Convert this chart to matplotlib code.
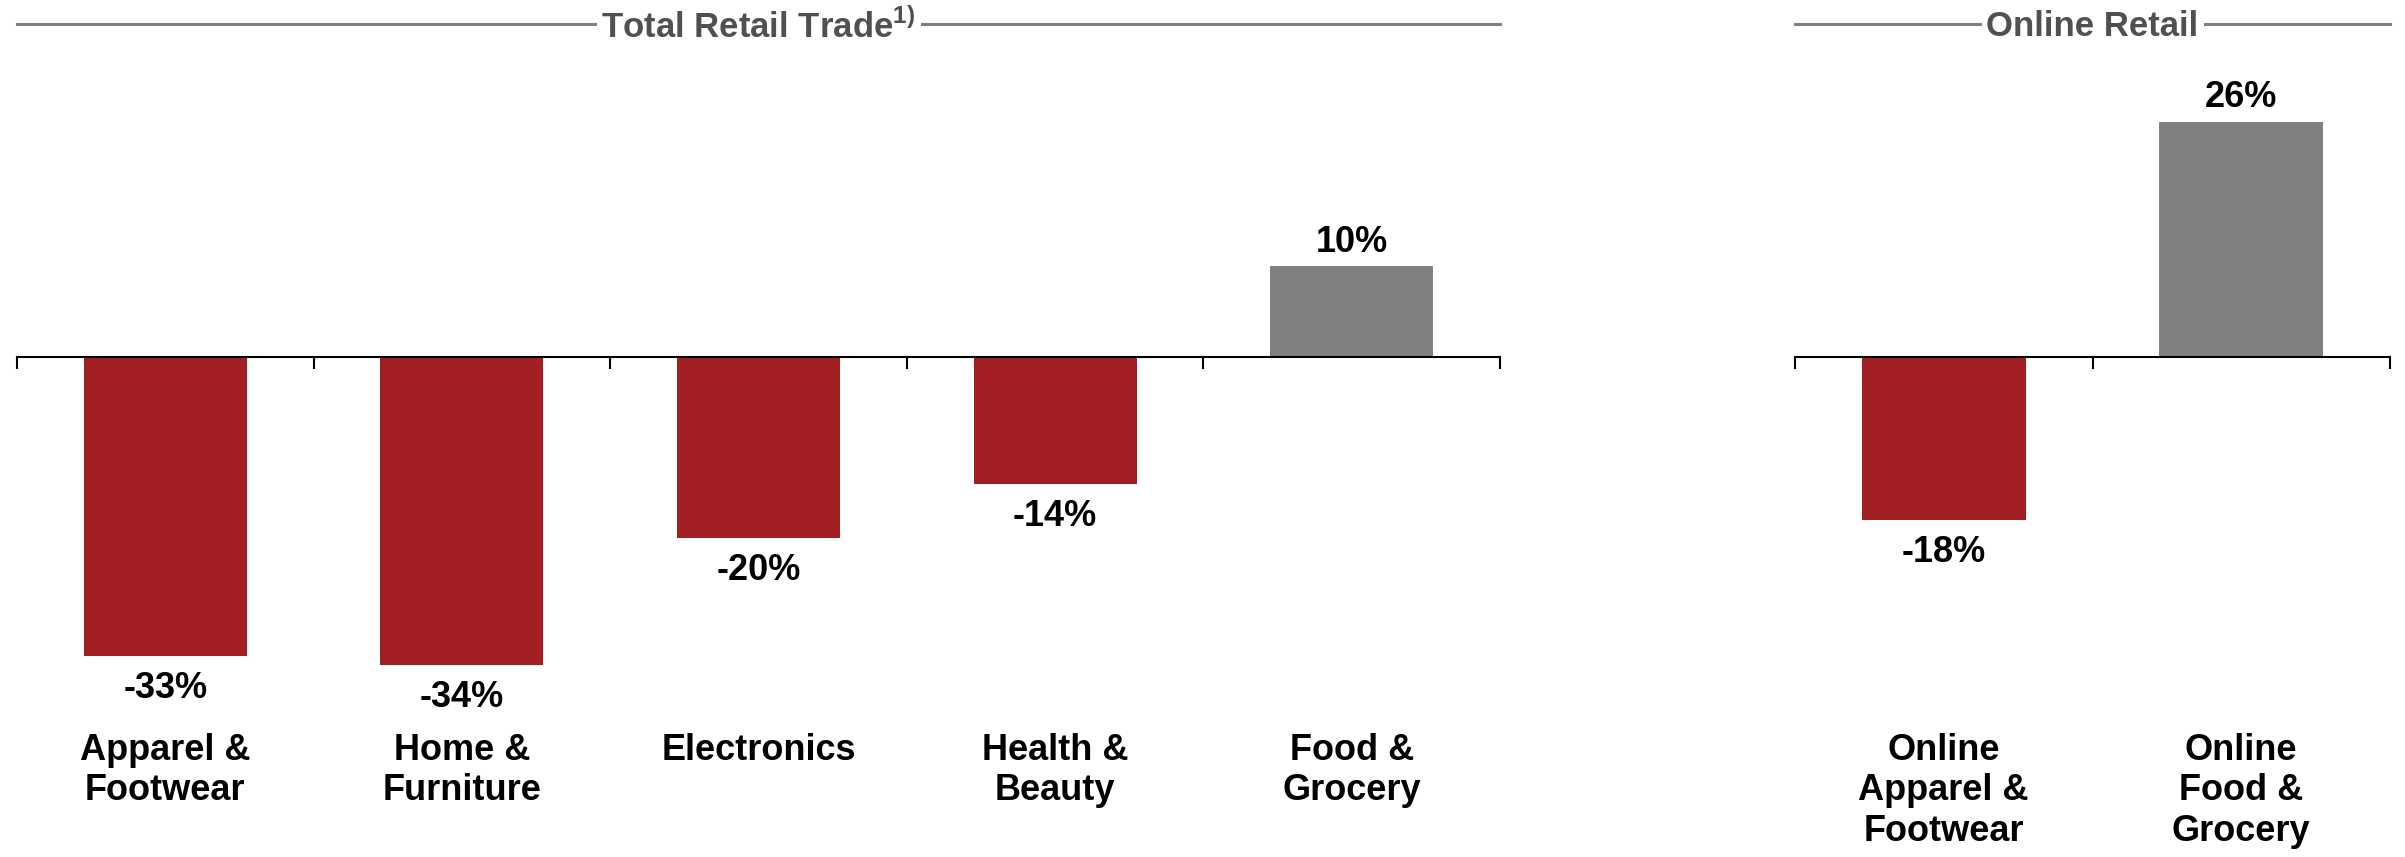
import matplotlib
matplotlib.use("Agg")
import matplotlib.pyplot as plt
from matplotlib.transforms import blended_transform_factory

plt.rcParams['font.family'] = ['Liberation Sans Narrow', 'Liberation Sans', 'DejaVu Sans']
plt.rcParams['mathtext.fontset'] = 'custom'
plt.rcParams['mathtext.bf'] = 'Liberation Sans:bold'
plt.rcParams['mathtext.rm'] = 'Liberation Sans'

# data
retail_cats = ["Apparel &\nFootwear", "Home &\nFurniture", "Electronics",
               "Health &\nBeauty", "Food &\nGrocery"]
retail_vals = [-33, -34, -20, -14, 10]
online_cats = ["Online\nApparel &\nFootwear", "Online\nFood &\nGrocery"]
online_vals = [-18, 26]

RED = "#a11f22"
GREY = "#808080"
TITLE_GREY = "#505050"

W, H = 2405, 857
fig = plt.figure(figsize=(W / 100, H / 100), dpi=100)

ylim = (-37.9, 29.5)
ax_bottom = 1 - 700 / H
ax_height = 610 / H
ax1 = fig.add_axes([17 / W, ax_bottom, 1483 / W, ax_height])
ax2 = fig.add_axes([1795 / W, ax_bottom, 595 / W, ax_height])


def draw_panel(ax, cats, vals, title):
    x = list(range(len(cats)))
    colors = [RED if v < 0 else GREY for v in vals]
    ax.bar(x, vals, width=0.55, color=colors, zorder=2)
    ax.set_xlim(-0.5, len(cats) - 0.5)
    ax.set_ylim(*ylim)
    for s in ["top", "right", "left"]:
        ax.spines[s].set_visible(False)
    ax.spines["bottom"].set_position(("data", 0))
    ax.spines["bottom"].set_linewidth(1.5)
    ax.spines["bottom"].set_zorder(3)
    ax.set_yticks([])
    ax.set_xticks([i - 0.5 for i in range(len(cats) + 1)])
    ax.set_xticklabels([])
    ax.tick_params(axis="x", direction="out", length=8.5, width=1.5)

    for xi, v in zip(x, vals):
        off = -23.5 if v < 0 else 17.5
        ax.annotate(f"{v}%", (xi, v), xytext=(0, off), textcoords="offset points",
                    ha="center", va="center", fontsize=26, fontweight="bold")

    tr = blended_transform_factory(ax.transData, fig.transFigure)
    for xi, c in zip(x, cats):
        ax.text(xi, 1 - 733 / H, c, transform=tr, ha="center", va="top",
                fontsize=26, fontweight="bold", linespacing=1.2)

    # section header with rule lines either side
    pos = ax.get_position()
    cx = (pos.x0 + pos.x1) / 2
    ty = 1 - 27 / H
    t = fig.text(cx, ty, title, ha="center", va="center", fontsize=25,
                 fontweight="bold", color=TITLE_GREY)
    return t, pos, ty


headers = [draw_panel(ax1, retail_cats, retail_vals, r"Total Retail Trade$^{\mathbf{1)}}$"),
           draw_panel(ax2, online_cats, online_vals, "Online Retail")]

fig.canvas.draw()
r = fig.canvas.get_renderer()
for t, pos, ty in headers:
    bb = t.get_window_extent(r).transformed(fig.transFigure.inverted())
    gap = 6 / W
    ly = (bb.y0 + bb.y1) / 2 + 0.004
    for x0, x1 in [(pos.x0, bb.x0 - gap), (bb.x1 + gap, pos.x1)]:
        fig.add_artist(plt.Line2D([x0, x1], [ly, ly], color=GREY, lw=2.2))

fig.savefig("out.png", dpi=100)
